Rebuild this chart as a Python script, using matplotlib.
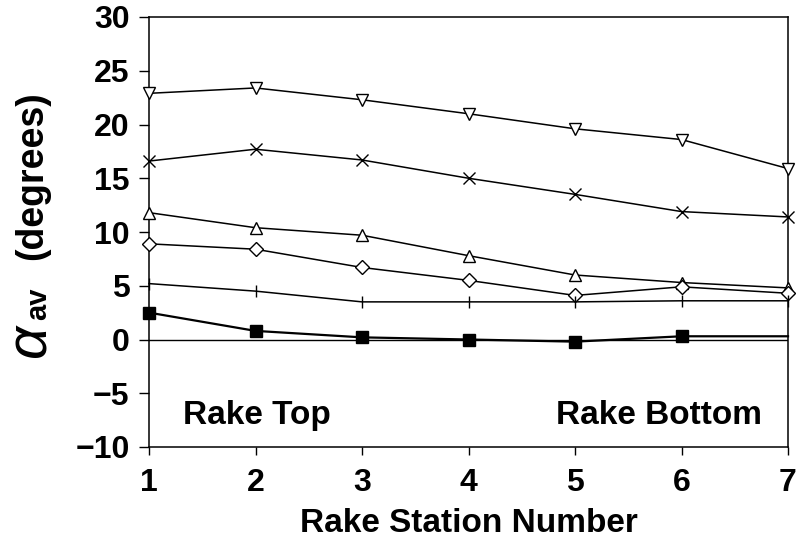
import numpy as np
import matplotlib.pyplot as plt

plt.rcParams['font.family'] = ['Liberation Sans', 'DejaVu Sans']
plt.rcParams['font.weight'] = 'bold'
plt.rcParams['axes.labelweight'] = 'bold'

stations = [1, 2, 3, 4, 5, 6, 7]

# average flow angle at each rake station, one list per case
alpha_down_tri = [22.9, 23.4, 22.3, 21.0, 19.6, 18.6, 15.9]
alpha_cross = [16.6, 17.7, 16.7, 15.0, 13.5, 11.9, 11.4]
alpha_up_tri = [11.8, 10.4, 9.7, 7.8, 6.0, 5.3, 4.8]
alpha_diamond = [8.9, 8.4, 6.7, 5.5, 4.1, 4.9, 4.3]
alpha_plus = [5.2, 4.5, 3.5, 3.5, 3.5, 3.6, 3.6]
alpha_square = [2.5, 0.8, 0.2, 0.0, -0.2, 0.3, 0.3]

W, H = 796, 546
fig, ax = plt.subplots(figsize=(W / 100, H / 100), dpi=100)
fig.subplots_adjust(left=149 / W, right=788 / W, top=1 - 17 / H, bottom=1 - 447 / H)

ax.axhline(0, color='black', lw=1.0, zorder=1)

kw = dict(color='black', lw=1.1, mfc='white', mec='black', mew=1.0, clip_on=False, zorder=3)
ax.plot(stations, alpha_down_tri, marker='v', ms=9, **kw)
ax.plot(stations, alpha_cross, marker='x', ms=9, **kw)
ax.plot(stations, alpha_up_tri, marker='^', ms=9, **kw)
ax.plot(stations, alpha_diamond, marker='D', ms=7, **kw)
ax.plot(stations, alpha_plus, marker='|', ms=9, **kw)
ax.plot(stations, alpha_square, color='black', lw=1.6, marker='s', ms=9,
        mfc='black', mec='black', markevery=[0, 1, 2, 3, 4, 5], clip_on=False, zorder=3)

ax.set_xlim(1, 7)
ax.set_ylim(-10, 30)
ax.set_xticks(stations)
ax.set_yticks(np.arange(-10, 31, 5))
ax.set_yticklabels(['\u221210', '\u22125', '0', '5', '10', '15', '20', '25', '30'])
ax.tick_params(axis='y', direction='out', length=7, width=1, labelsize=23, pad=7)
ax.tick_params(axis='x', direction='out', length=6, width=1, labelsize=23, pad=9)
for s in ax.spines.values():
    s.set_linewidth(1.1)

ax.set_xlabel('Rake Station Number', fontsize=24, labelpad=7)

# y axis title: big alpha, subscript and unit
fig.text(30 / W, 1 - 340 / H, '\u03b1', fontsize=42, style='italic', fontweight='normal',
         rotation=90, ha='center', va='center')
fig.text(38 / W, 1 - 304 / H, 'av', fontsize=21, rotation=90, ha='center', va='center')
fig.text(32 / W, 1 - 176 / H, '(degrees)', fontsize=27, rotation=90, ha='center', va='center')

ax.text(1.32, -7.86, 'Rake Top', fontsize=24, ha='left', va='baseline')
ax.text(6.76, -7.86, 'Rake Bottom', fontsize=24, ha='right', va='baseline')

fig.savefig('out.png', dpi=100)
